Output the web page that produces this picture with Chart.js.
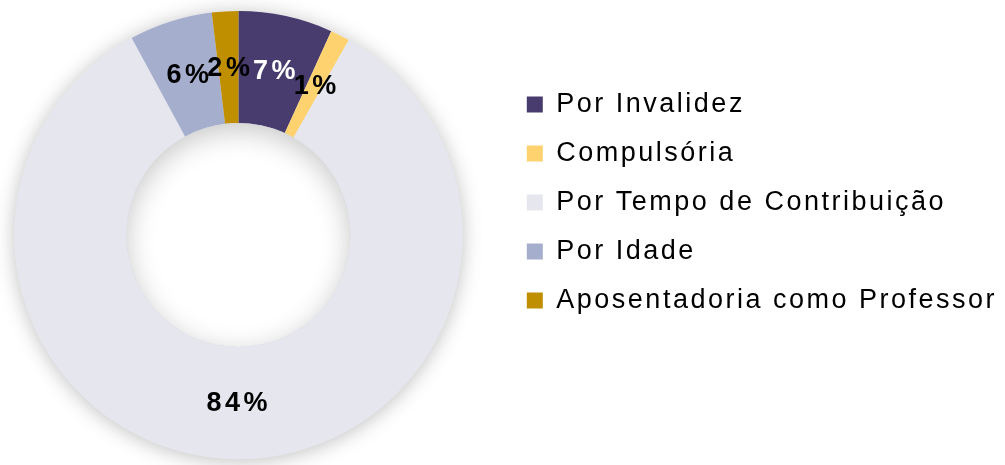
<!DOCTYPE html>
<html>
<head>
<meta charset="utf-8">
<script src="https://cdn.jsdelivr.net/npm/chart.js@4"></script>
<style>
    html, body { margin: 0; padding: 0; background: #fff; overflow: hidden; }
    /* canvas starts a bit left of the page so the ring sits where the original has it */
    #wrap { position: relative; left: -28px; width: 1033px; height: 465px; }
</style>
</head>
<body>
<div id="wrap"><canvas id="AposChart"></canvas></div>
<script>
const categories = ["Por Invalidez", "Compulsória", "Por Tempo de Contribuição", "Por Idade", "Aposentadoria como Professor"];
const shares = [6.8, 1.4, 83.9, 6.0, 1.9];
const sliceColors = ["#473c6d", "#fed26f", "#e6e7ee", "#a5aecd", "#bf8f00"];
const labelColors = ["#ffffff", "#000000", "#000000", "#000000", "#000000"];

const FONT = "'Liberation Sans', Arial, sans-serif";

// text in the original is drawn with wide tracking
const tracking = {
    id: "tracking",
    beforeLayout(chart) { chart.ctx.letterSpacing = "2.5px"; },
    beforeDraw(chart) { chart.ctx.letterSpacing = "2.5px"; },
};

const ringShadow = {
    id: "ringShadow",
    beforeDatasetsDraw(chart) {
        const arc = chart.getDatasetMeta(0).data[0];
        if (!arc) return;
        const { x, y, outerRadius } = arc.getProps(["x", "y", "outerRadius"], true);
        const ctx = chart.ctx;
        ctx.save();
        ctx.shadowColor = "rgba(0,0,0,0.25)";
        ctx.shadowBlur = 20;
        ctx.shadowOffsetY = 2;
        ctx.fillStyle = "#e6e7ee";
        ctx.beginPath();
        ctx.arc(x, y, outerRadius, 0, Math.PI * 2);
        ctx.fill();
        ctx.restore();
    },
    afterDatasetsDraw(chart) {
        const arc = chart.getDatasetMeta(0).data[0];
        if (!arc) return;
        const { x, y, innerRadius } = arc.getProps(["x", "y", "innerRadius"], true);
        const ctx = chart.ctx;
        // white hole with an inner shadow, heavier at the top
        ctx.save();
        ctx.beginPath();
        ctx.arc(x, y, innerRadius, 0, Math.PI * 2);
        ctx.clip();
        ctx.fillStyle = "#ffffff";
        ctx.fill();
        ctx.shadowColor = "rgba(0,0,0,0.22)";
        ctx.shadowBlur = 28;
        ctx.shadowOffsetY = 7;
        ctx.strokeStyle = "#e6e7ee";
        ctx.lineWidth = 60;
        ctx.beginPath();
        ctx.arc(x, y, innerRadius + 30, 0, Math.PI * 2);
        ctx.stroke();
        ctx.restore();
    },
};

const sliceLabels = {
    id: "sliceLabels",
    afterDatasetsDraw(chart) {
        const ctx = chart.ctx;
        const meta = chart.getDatasetMeta(0);
        const total = shares.reduce((a, b) => a + b, 0);
        ctx.save();
        ctx.font = "bold 27px " + FONT;
        ctx.letterSpacing = "3.5px";
        ctx.textAlign = "center";
        ctx.textBaseline = "middle";
        meta.data.forEach((arc, i) => {
            const p = arc.tooltipPosition(true);
            ctx.fillStyle = labelColors[i];
            ctx.fillText(Math.round(shares[i] / total * 100) + "%", p.x + 2, p.y + 1);
        });
        ctx.restore();
    },
};

function AposChart() {
    const ctx = document.getElementById("AposChart");

    new Chart(ctx, {
        type: "doughnut",
        data: {
            labels: categories,
            datasets: [
                {
                    data: shares,
                    backgroundColor: sliceColors,
                    borderWidth: 0,
                    hoverOffset: 0,
                },
            ],
        },
        options: {
            responsive: true,
            maintainAspectRatio: false,
            animation: false,
            cutout: "50%",
            layout: {
                padding: { left: 0, right: -2, top: 11, bottom: 6 },
            },
            plugins: {
                tooltip: { enabled: false },
                legend: {
                    display: true,
                    position: "right",
                    align: "start",
                    title: {
                        display: true,
                        text: " ",
                        font: { size: 10 },
                        padding: { top: 46, bottom: 0 },
                    },
                    labels: {
                        boxWidth: 16,
                        boxHeight: 16,
                        padding: 22,
                        color: "#000",
                        font: { size: 27, family: FONT },
                    },
                },
            },
        },
        plugins: [tracking, ringShadow, sliceLabels],
    });
}

AposChart();
</script>
</body>
</html>
